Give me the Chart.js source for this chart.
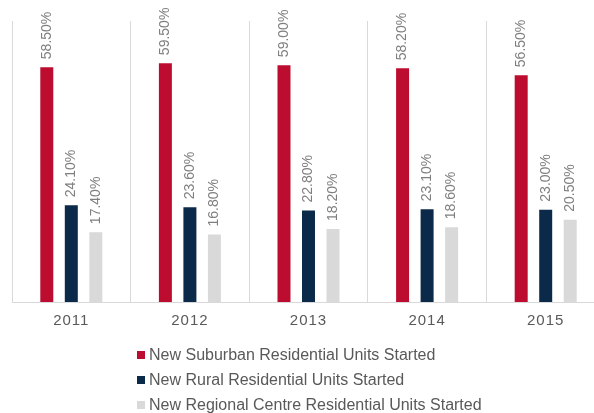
<!DOCTYPE html>
<html>
<head>
<meta charset="utf-8">
<script src="https://cdn.jsdelivr.net/npm/chart.js@4/dist/chart.umd.min.js"></script>
<style>
  html, body { margin: 0; padding: 0; background: #fff; overflow: hidden; }
  #wrap { width: 606px; height: 413px; }
</style>
</head>
<body>
<div id="wrap"><canvas id="chart" width="606" height="413"></canvas></div>
<script>
// Chart data
const years = ['2011', '2012', '2013', '2014', '2015'];
const suburban = [58.5, 59.5, 59.0, 58.2, 56.5];
const rural = [24.1, 23.6, 22.8, 23.1, 23.0];
const regional = [17.4, 16.8, 18.2, 18.6, 20.5];
const seriesNames = [
  'New Suburban Residential Units Started',
  'New Rural Residential Units Started',
  'New Regional Centre Residential Units Started'
];
const seriesColors = ['#BC0D31', '#0B2A4A', '#D9D9D9'];

const FONT = '"Liberation Sans", Arial, sans-serif';

// Year labels are slightly letter-spaced in the original
const tickSpacing = {
  id: 'tickSpacing',
  beforeDraw(chart) { chart.ctx.letterSpacing = '1px'; },
  beforeDatasetsDraw(chart) { chart.ctx.letterSpacing = '0px'; }
};

// Rotated value labels above each bar
const valueLabels = {
  id: 'valueLabels',
  afterDatasetsDraw(chart) {
    const ctx = chart.ctx;
    ctx.save();
    ctx.font = '14px ' + FONT;
    ctx.fillStyle = '#7F7F7F';
    ctx.textAlign = 'left';
    ctx.textBaseline = 'middle';
    chart.data.datasets.forEach((ds, i) => {
      chart.getDatasetMeta(i).data.forEach((bar, j) => {
        ctx.save();
        ctx.translate(bar.x, bar.y - 8);
        ctx.rotate(-Math.PI / 2);
        ctx.fillText(ds.data[j].toFixed(2) + '%', 0, 0);
        ctx.restore();
      });
    });
    ctx.restore();
  }
};

// Vertical left-aligned legend below the axis
const stackedLegend = {
  id: 'stackedLegend',
  afterDraw(chart) {
    const ctx = chart.ctx;
    ctx.save();
    ctx.font = '16px ' + FONT;
    ctx.textBaseline = 'middle';
    ctx.textAlign = 'left';
    chart.data.datasets.forEach((ds, i) => {
      const y = 355 + i * 25;
      ctx.fillStyle = ds.backgroundColor;
      ctx.fillRect(137, y - 4, 8, 8);
      ctx.fillStyle = '#595959';
      ctx.fillText(ds.label, 149, y + 1);
    });
    ctx.restore();
  }
};

new Chart(document.getElementById('chart'), {
  type: 'bar',
  data: {
    labels: years,
    datasets: [
      { label: seriesNames[0], data: suburban, backgroundColor: seriesColors[0] },
      { label: seriesNames[1], data: rural, backgroundColor: seriesColors[1] },
      { label: seriesNames[2], data: regional, backgroundColor: seriesColors[2] }
    ]
  },
  options: {
    responsive: false,
    animation: false,
    barPercentage: 0.53,
    categoryPercentage: 0.62,
    layout: { padding: { top: 21, left: 12, right: 1, bottom: 0 } },
    plugins: {
      legend: { display: false },
      tooltip: { enabled: false }
    },
    scales: {
      x: {
        grid: { color: '#D9D9D9', drawTicks: false, offset: true },
        border: { color: '#D9D9D9' },
        ticks: { color: '#595959', font: { family: FONT, size: 15 }, padding: 10 },
        afterFit(scale) { scale.height = 111; }
      },
      y: { display: false, min: 0, max: 70 }
    }
  },
  plugins: [tickSpacing, valueLabels, stackedLegend]
});
</script>
</body>
</html>
